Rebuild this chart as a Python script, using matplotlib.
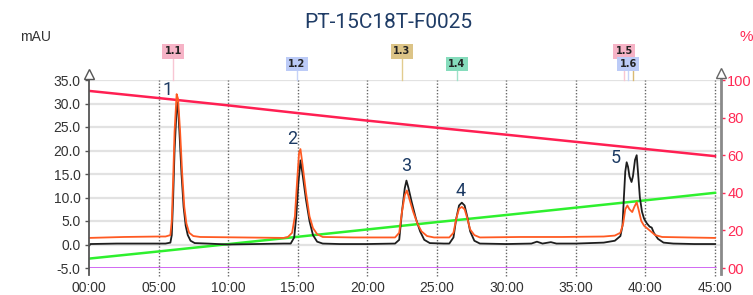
import matplotlib
matplotlib.use('Agg')
import matplotlib.pyplot as plt
from matplotlib.transforms import blended_transform_factory

# ---------------- data ----------------
title = "PT-15C18T-F0025"

# black chromatogram (time in minutes, mAU)
black_t = [0.0, 0.1, 2.0, 4.0, 5.5, 5.85, 5.95, 6.05, 6.15, 6.3, 6.38, 6.5, 6.65, 6.8, 6.95, 7.1, 7.3, 7.6, 8.5,
           10.0, 12.0, 14.0, 14.5, 14.75, 14.9, 15.05, 15.2, 15.35, 15.6, 15.85, 16.1, 16.4, 16.8, 18.0,
           20.0, 22.0, 22.3, 22.5, 22.7, 22.82, 22.95, 23.2, 23.5, 23.8, 24.1, 24.5, 25.5,
           25.9, 26.2, 26.4, 26.6, 26.8, 27.0, 27.2, 27.4, 27.7, 28.1, 30.0, 31.8, 32.2, 32.6, 33.2, 33.6, 35.0,
           37.0, 37.8, 38.2, 38.35, 38.45, 38.55, 38.65, 38.75, 38.85, 39.0, 39.1, 39.25, 39.37, 39.5, 39.6,
           39.75, 39.9, 40.1, 40.3, 40.45, 40.6, 40.9, 41.3, 42.0, 43.5, 45.0]
black_v = [-0.3, 0.1, 0.2, 0.2, 0.2, 0.4, 2.0, 10.0, 20.0, 29.0, 30.2, 24.0, 15.0, 8.0, 4.0, 2.0, 0.8, 0.3, 0.2,
           0.0, 0.1, 0.2, 0.2, 1.5, 6.0, 13.0, 17.9, 15.0, 9.5, 5.0, 2.0, 0.6, 0.2, 0.1,
           0.1, 0.2, 1.0, 7.0, 12.0, 13.6, 12.2, 9.0, 5.5, 2.8, 1.0, 0.3, 0.2,
           0.2, 1.5, 5.5, 8.3, 8.9, 8.3, 5.8, 2.8, 0.8, 0.2, 0.1, 0.2, 0.6, 0.2, 0.5, 0.2, 0.2,
           0.4, 0.8, 1.8, 4.0, 10.0, 15.5, 17.5, 16.5, 14.5, 13.3, 14.5, 18.0, 19.0, 14.0, 10.0,
           7.0, 5.5, 4.5, 3.8, 3.6, 2.5, 1.2, 0.4, 0.2, 0.1, 0.1]

# orange chromatogram (time in minutes, mAU)
orange_t = [0.0, 2.5, 5.0, 5.5, 5.85, 5.95, 6.05, 6.15, 6.3, 6.4, 6.55, 6.7, 6.85, 7.0, 7.2, 7.5, 8.0, 11.0,
            14.0, 14.3, 14.6, 14.8, 14.95, 15.1, 15.2, 15.35, 15.6, 15.85, 16.1, 16.4, 16.8, 19.0,
            22.0, 22.3, 22.5, 22.7, 22.85, 23.0, 23.3, 23.6, 23.9, 24.3, 24.8,
            25.9, 26.2, 26.4, 26.6, 26.8, 27.0, 27.2, 27.4, 27.7, 28.1, 31.0, 34.0,
            37.0, 37.8, 38.2, 38.4, 38.55, 38.7, 38.85, 39.05, 39.2, 39.37, 39.5, 39.7, 39.9, 40.3,
            40.7, 41.2, 43.0, 45.0]
orange_v = [1.4, 1.6, 1.7, 1.7, 2.0, 5.0, 14.0, 24.0, 32.0, 31.0, 24.0, 15.0, 8.0, 4.5, 2.5, 1.8, 1.6, 1.5,
            1.4, 1.6, 2.5, 6.0, 13.0, 19.5, 20.3, 17.0, 11.0, 6.0, 3.5, 2.2, 1.6, 1.5,
            1.5, 2.5, 7.0, 10.5, 11.5, 10.0, 7.0, 4.5, 2.8, 1.8, 1.5,
            1.5, 2.5, 5.5, 7.6, 8.0, 7.5, 5.5, 3.2, 2.0, 1.5, 1.6, 1.6,
            1.7, 1.9, 2.5, 4.5, 7.5, 8.3, 7.5, 6.9, 8.0, 9.0, 7.5, 5.0, 4.0, 3.0,
            2.0, 1.6, 1.5, 1.4]

# gradient (time in minutes, %)
grad_t = [0, 5, 10, 15, 20, 25, 30, 35, 40, 45]
pct_red = [94.2, 90.4, 86.5, 82.4, 78.4, 74.6, 70.9, 67.1, 63.3, 59.5]
pct_green = [5.0, 8.8, 12.7, 16.6, 20.5, 24.4, 28.2, 32.1, 36.0, 40.0]
purple_t = [0, 45]
pct_purple = [0, 0]

x_ticks = [0, 5, 10, 15, 20, 25, 30, 35, 40, 45]
x_labels = ["00:00", "05:00", "10:00", "15:00", "20:00", "25:00", "30:00", "35:00", "40:00", "45:00"]
left_ticks = [-5, 0, 5, 10, 15, 20, 25, 30, 35]
left_labels = ["-5.0", "0.0", "5.0", "10.0", "15.0", "20.0", "25.0", "30.0", "35.0"]
right_ticks = [0, 20, 40, 60, 80, 100]
right_labels = ["00", "20", "40", "60", "80", "100"]

peak_names = ["1", "2", "3", "4", "5"]
peak_name_t = [5.68, 14.6, 22.8, 26.75, 37.9]
peak_name_y = [32.8, 22.5, 16.6, 11.3, 18.4]

marker_names = ["1.1", "1.2", "1.3", "1.4", "1.5", "1.6"]
marker_t = [6.07, 14.95, 22.5, 26.45, 38.48, 38.77]
marker_row = [0, 1, 0, 1, 0, 1]
marker_colors = ["#f6b3c6", "#bccbf7", "#dcc487", "#86dcbc", "#f6b3c6", "#bccbf7"]
marker_line_colors = ["#f8c6d3", "#c6d3f8", "#e2cc8f", "#9fe2ca", "#f8c6d3", "#c6d3f8"]
hidden_marker_t = [39.08]
hidden_marker_color = ["#d9b972"]

# ---------------- figure ----------------
W, H = 753, 295
fig = plt.figure(figsize=(W / 100, H / 100), dpi=100)
ax_l, ax_r, ax_b, ax_t = 89, 721, 268, 80
ax = fig.add_axes([ax_l / W, 1 - ax_b / H, (ax_r - ax_l) / W, (ax_b - ax_t) / H])
ax2 = ax.twinx()
ax.set_zorder(ax2.get_zorder() + 1)
ax.patch.set_visible(False)

XMAX = (ax_r - ax_l) / ((715 - 89) / 45.0)
ax.set_xlim(0, XMAX)
ax.set_ylim(-5, 35)
ax2.set_ylim(0, 100)

for a in (ax, ax2):
    for s in a.spines.values():
        s.set_visible(False)

tick_font = "Liberation Sans"
# horizontal grid at the left-axis ticks (drawn on the lower axes, below all traces)
gtr = blended_transform_factory(ax2.transAxes, ax.transData)
for v in left_ticks[1:]:
    ax2.plot([0, 1], [v, v], transform=gtr, color="#e2e2e2", lw=1.6, zorder=0)

# vertical dotted grid
xtr = ax2.get_xaxis_transform()
for t in x_ticks[1:]:
    ax2.plot([t, t], [-0.04, 1.0], transform=xtr, color="#666666", lw=1.0,
             ls=(0, (1, 1.3)), clip_on=False, zorder=1)

# gradient traces (right axis)
ax2.plot(purple_t, pct_purple, color="#c43cf0", lw=1.8, zorder=3)
ax2.plot(grad_t, pct_red, color="#ff1f52", lw=1.8, zorder=3)
ax2.plot(grad_t, pct_green, color="#2ef02e", lw=1.8, zorder=3)

# chromatograms (left axis)
ax.plot(black_t, black_v, color="#1e1e1e", lw=1.3, zorder=4)
ax.plot(orange_t, orange_v, color="#ff5a22", lw=1.3, zorder=5)

# spines drawn manually
ytr = ax.transAxes
ax.plot([0, 0], [-0.035, 1.02], transform=ytr, color="#555555", lw=1.3, clip_on=False, zorder=6)
ax.plot([0], [1.03], transform=ytr, marker="^", ms=7, mfc="white", mec="#555555", mew=1.0,
        clip_on=False, zorder=7)
ax.plot([1, 1], [-0.03, 1.025], transform=ytr, color="#8a8a8a", lw=2.0, clip_on=False, zorder=6)
ax.plot([1], [1.035], transform=ytr, marker="^", ms=7, mfc="white", mec="#666666", mew=1.0,
        clip_on=False, zorder=7)

# ticks
ax.set_xticks(x_ticks)
ax.set_xticklabels(x_labels, fontsize=10, color="#333333", family=tick_font)
ax.tick_params(axis="x", length=0, pad=9)
ax.set_yticks(left_ticks)
ax.set_yticklabels(left_labels, fontsize=10, color="#333333", family=tick_font)
ax.tick_params(axis="y", length=3, width=1, color="#555555", pad=3)
ax2.set_yticks(right_ticks)
ax2.set_yticklabels(right_labels, fontsize=10.5, color="#ff2a55", family=tick_font)
ax2.tick_params(axis="y", length=3, width=1, color="#ff2a55", pad=1.5)

# peak numbers
for n, t, y in zip(peak_names, peak_name_t, peak_name_y):
    ax.text(t, y, n, fontsize=13, color="#1c3a63", ha="center", va="center",
            family="Roboto", fontweight="normal", zorder=8)

# markers above plot
mtr = blended_transform_factory(ax.transData, ax.transAxes)
row_y = [1.152, 1.085]
for name, t, r, fc, lc in zip(marker_names, marker_t, marker_row, marker_colors, marker_line_colors):
    yb = row_y[r] - 0.03
    ax.plot([t, t], [1.0, yb], transform=mtr, color=lc, lw=1.0, clip_on=False, zorder=2)
for t, c in zip(hidden_marker_t, hidden_marker_color):
    ax.plot([t, t], [1.0, row_y[1] - 0.03], transform=mtr, color=c, lw=1.0, clip_on=False, zorder=2)
for name, t, r, fc in zip(marker_names, marker_t, marker_row, marker_colors):
    ax.text(t, row_y[r], name, transform=mtr, fontsize=7, fontweight="bold", color="#222222",
            ha="center", va="center", family="DejaVu Sans", zorder=9, clip_on=False,
            bbox=dict(boxstyle="square,pad=0.25", fc=fc, ec="none"))

# labels
fig.text(388 / W, 1 - 22 / H, title, fontsize=15, color="#1f3c66", ha="center", va="center",
         family="Roboto", fontweight="normal")
fig.text(36 / W, 1 - 37 / H, "mAU", fontsize=10, color="#333333", ha="center", va="center",
         family=tick_font)
fig.text(746 / W, 1 - 37 / H, "%", fontsize=11, color="#ff2a55", ha="center", va="center",
         family=tick_font)

fig.savefig("out.png", dpi=100)
